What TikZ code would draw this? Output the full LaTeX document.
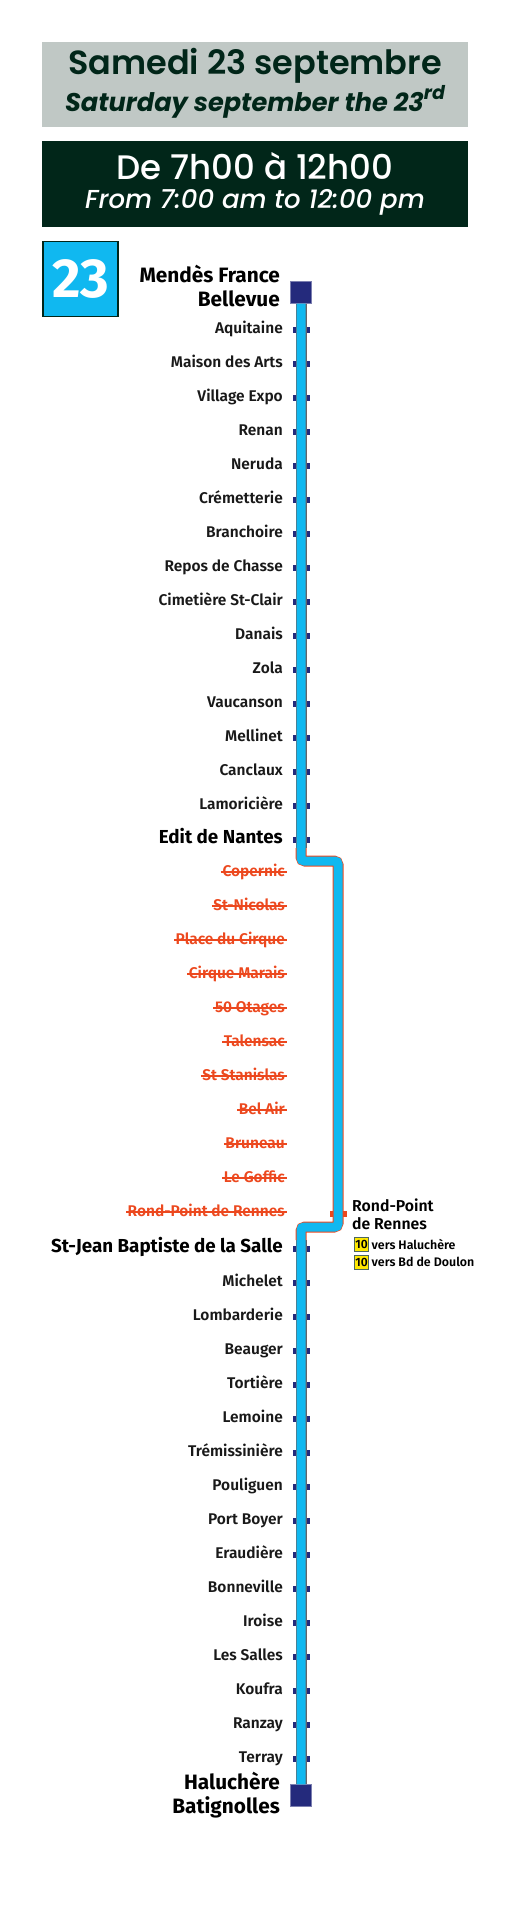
\documentclass[tikz,border=0pt]{standalone}
\usepackage{fontspec}
\setmainfont{Fira Sans}[BoldFont=Fira Sans SemiBold]
\newfontfamily\bigfont{Fira Sans}[UprightFont=Fira Sans Bold]
\newfontfamily\headfont{Poppins}[BoldFont=Poppins SemiBold,BoldItalicFont=Poppins Bold Italic,UprightFont=Poppins Medium,ItalicFont=Poppins Medium Italic]
\usetikzlibrary{positioning}
\definecolor{sage}{RGB}{192,200,197}
\definecolor{pine}{RGB}{1,38,25}
\definecolor{skyline}{RGB}{16,184,240}
\definecolor{navy}{RGB}{36,42,124}
\definecolor{cancel}{RGB}{236,72,30}
\definecolor{casing}{RGB}{100,100,105}
\definecolor{badge}{RGB}{255,232,0}
\tikzset{
  banner/.style={fill=#1,minimum width=426pt,minimum height=85.5pt,inner sep=0pt},
  stoptick/.style={fill=#1,minimum width=17pt,minimum height=5.5pt,inner sep=0pt},
  stoptick/.default=navy,
  terminus/.style={fill=navy,draw=navy!60!white,line width=.6pt,minimum size=21.5pt,inner sep=0pt},
  stopname/.style={anchor=east,inner sep=0pt,text height=11pt,text depth=3pt,
    font=\fontsize{15.5}{15}\selectfont\bfseries,text=black!90},
  bigstop/.style={anchor=east,inner sep=0pt,text height=14pt,text depth=4pt,
    font=\bigfont\fontsize{18.8}{17}\selectfont,text=black},
  bigname/.style={anchor=east,align=right,inner sep=0pt,font=\bigfont\fontsize{20.8}{24}\selectfont,text=black},
  cutname/.style={stopname,text=cancel},
  strike/.style={cancel,line width=1.1pt},
  linecase/.style={rounded corners=4pt,draw=#1,line width=11pt},
  linecore/.style={rounded corners=3pt,draw=skyline,line width=9pt},
  busbadge/.style={fill=badge,draw=pine!70,line width=1pt,minimum width=14pt,minimum height=14pt,inner sep=0pt,
    font=\fontsize{12}{11}\selectfont\bfseries},
  busdir/.style={right=2.5pt of #1,inner sep=0pt,font=\fontsize{12.4}{11}\selectfont\bfseries},
}
\begin{document}
\begin{tikzpicture}[x=1pt,y=-1pt]
  \useasboundingbox (0,0) rectangle (510,1928);
  \node[banner=sage] (day) at (255,84.5) {};
  \node[text=pine,font=\headfont\fontsize{33.5}{33}\selectfont\bfseries] (dayfr) at (255,66) {Samedi 23 septembre};
  \node[text=pine,font=\headfont\fontsize{25.6}{26}\selectfont\bfseries\itshape] (dayen) at (255,102) {Saturday september the 23\raisebox{.45em}{\fontsize{19}{19}\selectfont rd}};
  \node[banner=pine] (hours) at (255,184) {};
  \node[text=white,font=\headfont\fontsize{34}{34}\selectfont] (hoursfr) at (255,166) {De 7h00 à 12h00};
  \node[text=white,font=\headfont\fontsize{26}{26}\selectfont\itshape] (hoursen) at (255,202) {From 7:00 am to 12:00 pm};
  \node[fill=skyline,draw=pine,line width=1.3pt,minimum size=75pt,inner sep=0pt,text=white,
    font=\bigfont\fontsize{55}{55}\selectfont] (linenum) at (80.5,279) {23};
  % termini
  \node[terminus] (top) at (301,292.5) {};
  \node[terminus] (bottom) at (301,1795.5) {};
  \node[bigname] (topname) at (280,286) {Mendès France\\Bellevue};
  \node[bigname] (bottomname) at (280,1795.5) {Haluchère\\Batignolles};
  % stops
  \foreach \t [count=\i] in {Aquitaine,Maison des Arts,Village Expo,Renan,Neruda,Crémetterie,Branchoire,
    Repos de Chasse,Cimetière St-Clair,Danais,Zola,Vaucanson,Mellinet,Canclaux,Lamoricière}{
    \node[stoptick] (a\i) at (301,{296+34*\i}) {};
    \node[stopname] (an\i) at (283,{295+34*\i}) {\t};
  }
  \node[stoptick] (edit) at (301,840) {};
  \node[bigstop] (editname) at (283,838.5) {Edit de Nantes};
  \foreach \t [count=\i] in {Copernic,St-Nicolas,Place du Cirque,Cirque Marais,50 Otages,Talensac,St Stanislas,
    Bel Air,Bruneau,Le Goffic,Rond-Point de Rennes}{
    \node[cutname] (c\i) at (285,{838+34*\i}) {\t};
    \draw[strike] ([xshift=-1.5pt]c\i.west) -- ([xshift=1.5pt]c\i.east);
  }
  \node[stoptick=cancel] (rp) at (338.5,1214) {};
  \node[stoptick] (jean) at (301,1249) {};
  \node[bigstop] (jeanname) at (283,1247.5) {St-Jean Baptiste de la Salle};
  \foreach \t [count=\i] in {Michelet,Lombarderie,Beauger,Tortière,Lemoine,Trémissinière,Pouliguen,Port Boyer,
    Eraudière,Bonneville,Iroise,Les Salles,Koufra,Ranzay,Terray}{
    \node[stoptick] (b\i) at (301,{1249+34*\i}) {};
    \node[stopname] (bn\i) at (283,{1248+34*\i}) {\t};
  }
  % the line
  \coordinate (off1) at (301,861);
  \coordinate (off2) at (338,861);
  \coordinate (on2) at (338,1227);
  \coordinate (on1) at (301,1227);
  \coordinate (cut1) at (301,848);
  \coordinate (cut2) at (301,1240);
  \draw[linecase=casing] (top.south) -- (cut1);
  \draw[linecase=casing] (cut2) -- (bottom.north);
  \draw[linecase=cancel] (cut1) -- (off1) -- (off2) -- (on2) -- (on1) -- (cut2);
  \draw[linecore] (top.south) -- (off1) -- (off2) -- (on2) -- (on1) -- (bottom.north);
  % correspondence
  \node[anchor=north west,align=left,inner sep=0pt,font=\fontsize{15.8}{18}\selectfont\bfseries] (rpname) at (352,1198.5) {Rond-Point\\de Rennes};
  \node[busbadge] (bus1) at (361.5,1244) {10};
  \node[busbadge] (bus2) at (361.5,1262) {10};
  \node[busdir=bus1] (dir1) {vers Haluchère};
  \node[busdir=bus2] (dir2) {vers Bd de Doulon};
\end{tikzpicture}
\end{document}
